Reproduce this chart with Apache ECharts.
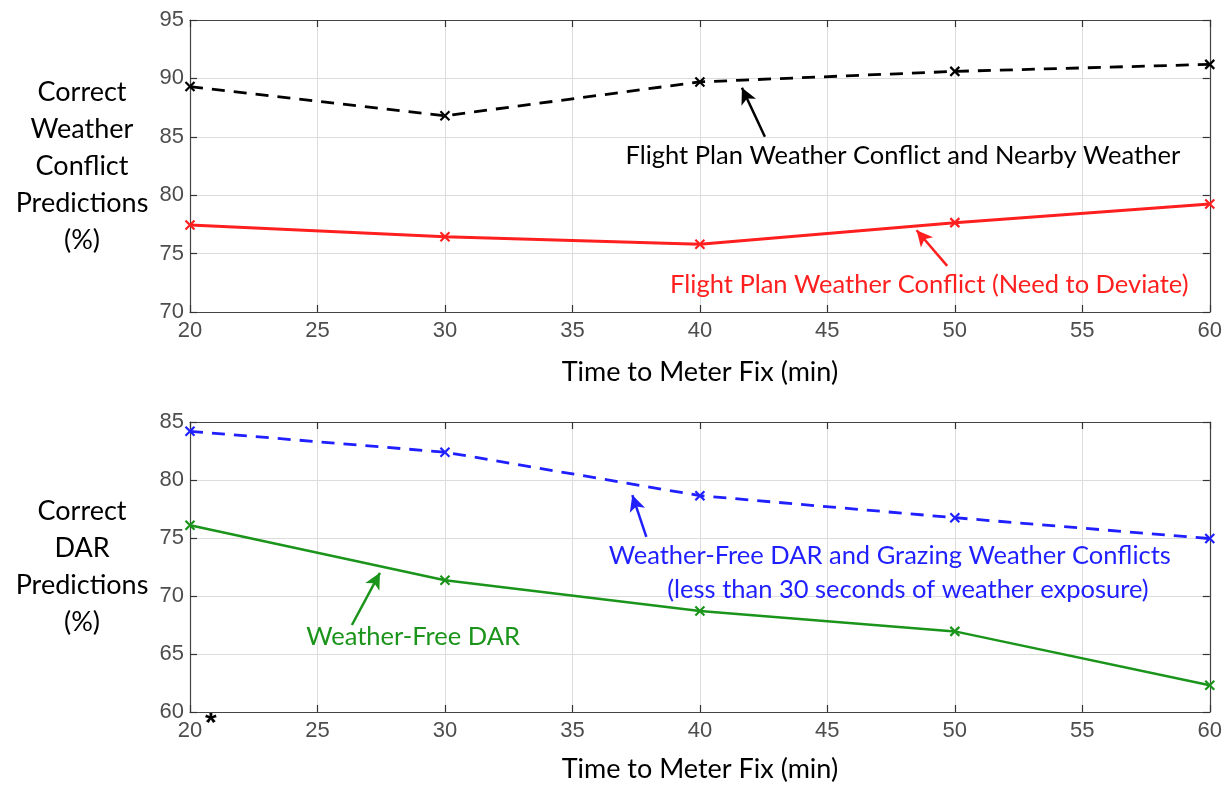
<!DOCTYPE html>
<html>
<head>
<meta charset="utf-8">
<script src="https://cdn.jsdelivr.net/npm/echarts@6/dist/echarts.min.js"></script>
<style>html,body{margin:0;padding:0;background:#fff;}#main{width:1225px;height:785px;}</style>
</head>
<body>
<div id="main"></div>
<script>
// ---- data ----
const times = [20, 30, 40, 50, 60];
const nearbyWeather = [89.3, 86.8, 89.7, 90.6, 91.2];
const needDeviate = [77.45, 76.45, 75.8, 77.65, 79.25];
const grazingDAR = [84.2, 82.4, 78.65, 76.75, 74.95];
const weatherFreeDAR = [76.1, 71.35, 68.7, 66.95, 62.3];
const xTicks = [20, 25, 30, 35, 40, 45, 50, 55, 60];
const topYTicks = [70, 75, 80, 85, 90, 95];
const bottomYTicks = [60, 65, 70, 75, 80, 85];
const xTitle = 'Time to Meter Fix (min)';
const topYTitle = 'Correct\nWeather\nConflict\nPredictions\n(%)';
const bottomYTitle = 'Correct\nDAR\nPredictions\n(%)';
const labelNearby = 'Flight Plan Weather Conflict and Nearby Weather';
const labelDeviate = 'Flight Plan Weather Conflict (Need to Deviate)';
const labelGrazing1 = 'Weather-Free DAR and Grazing Weather Conflicts';
const labelGrazing2 = '(less than 30 seconds of weather exposure)';
const labelFree = 'Weather-Free DAR';

const pairs = (ys) => times.map((t, i) => [t, ys[i]]);
const xMark = 'path://M0,0L10,10M10,0L0,10';
const annFont = 'Lato';

function xAxes(gi, gap) {
  const base = {
    type: 'value', gridIndex: gi, min: xTicks[0], max: xTicks[xTicks.length - 1], interval: 5,
    axisLine: { show: true, lineStyle: { color: '#444', width: 1.2 } },
    axisTick: { show: true, inside: true, length: 7, lineStyle: { color: '#333', width: 1.2 } },
    splitLine: { show: false }
  };
  return [
    Object.assign({}, base, {
      position: 'bottom',
      splitLine: { show: true, lineStyle: { color: '#dcdcdc', width: 1 } },
      axisLabel: { color: '#4d4d4d', fontSize: 22, fontFamily: 'Liberation Sans', margin: 8 },
      name: xTitle, nameLocation: 'middle', nameGap: gap,
      nameTextStyle: { color: '#000', fontSize: 27, fontFamily: annFont }
    }),
    Object.assign({}, base, { position: 'top', axisLabel: { show: false } })
  ];
}
function yAxes(gi, ticks, title) {
  const base = {
    type: 'value', gridIndex: gi, min: ticks[0], max: ticks[ticks.length - 1], interval: 5,
    axisLine: { show: true, lineStyle: { color: '#444', width: 1.2 } },
    axisTick: { show: true, inside: true, length: 7, lineStyle: { color: '#333', width: 1.2 } },
    splitLine: { show: false }
  };
  return [
    Object.assign({}, base, {
      position: 'left',
      splitLine: { show: true, lineStyle: { color: '#dcdcdc', width: 1 } },
      axisLabel: { color: '#4d4d4d', fontSize: 22, fontFamily: 'Liberation Sans', margin: 6 },
      name: title, nameLocation: 'middle', nameRotate: 0, nameGap: 108,
      nameTextStyle: { color: '#000', fontSize: 27, fontFamily: annFont, align: 'center', verticalAlign: 'middle', lineHeight: 37 }
    }),
    Object.assign({}, base, { position: 'right', axisLabel: { show: false } })
  ];
}

function arrow(color, tail, tip) {
  return {
    silent: true, animation: false, symbol: ['none', 'arrow'], symbolSize: [12, 16],
    label: { show: false },
    lineStyle: { color: color, type: 'solid', width: 2.5 },
    data: [[{ coord: tail }, { coord: tip }]]
  };
}
function textMarks(color, items) {
  return {
    silent: true, animation: false, symbol: 'circle', symbolSize: 0,
    data: items.map(it => ({
      coord: it.coord, value: it.text,
      label: { show: true, position: 'inside', formatter: it.text, color: color, fontSize: 25.5, fontFamily: annFont }
    }))
  };
}
function lineSeries(name, xi, yi, ys, color, dashed, width) {
  return {
    name: name, type: 'line', xAxisIndex: xi, yAxisIndex: yi, data: pairs(ys),
    symbol: xMark, symbolSize: 9, showSymbol: true, animation: false,
    lineStyle: { color: color, width: width, type: dashed ? [13, 9] : 'solid' },
    itemStyle: { color: color, borderColor: color, borderWidth: 2.2 },
    z: 5
  };
}

const s1 = lineSeries('nearby', 0, 0, nearbyWeather, '#000000', true, 2.8);
s1.markLine = arrow('#000000', [42.55, 85.0], [41.65, 89.2]);
s1.markPoint = textMarks('#000000', [{ coord: [47.96, 83.4], text: labelNearby }]);
const s2 = lineSeries('deviate', 0, 0, needDeviate, '#ff1f1f', false, 3);
s2.markLine = arrow('#ff1f1f', [49.7, 73.95], [48.5, 77.0]);
s2.markPoint = textMarks('#ff1f1f', [{ coord: [49.0, 72.3], text: labelDeviate }]);
const s3 = lineSeries('grazing', 2, 2, grazingDAR, '#1f1fff', true, 2.8);
s3.markLine = arrow('#1f1fff', [37.9, 75.1], [37.35, 78.7]);
s3.markPoint = textMarks('#1f1fff', [
  { coord: [47.45, 73.5], text: labelGrazing1 },
  { coord: [48.16, 70.5], text: labelGrazing2 }
]);
const s4 = lineSeries('free', 2, 2, weatherFreeDAR, '#1a941a', false, 2.5);
s4.markLine = arrow('#1a941a', [26.35, 67.5], [27.45, 72.0]);
s4.markPoint = textMarks('#1a941a', [{ coord: [28.75, 66.45], text: labelFree }]);

const option = {
  backgroundColor: '#fff',
  animation: false,
  grid: [
    { left: 190, right: 13, top: 20, height: 292 },
    { left: 190, right: 13, top: 422, height: 290 }
  ],
  xAxis: xAxes(0, 47).concat(xAxes(1, 44)),
  yAxis: yAxes(0, topYTicks, topYTitle).concat(yAxes(1, bottomYTicks, bottomYTitle)),
  graphic: [
    { type: 'text', left: 205, top: 709, style: { text: '*', fontSize: 30, fontWeight: 'bold', fontFamily: 'Liberation Sans', fill: '#000' } }
  ],
  series: [s1, s2, s3, s4]
};
const chart = echarts.init(document.getElementById('main'), null, { renderer: 'canvas' });
chart.setOption(option);
</script>
</body>
</html>
